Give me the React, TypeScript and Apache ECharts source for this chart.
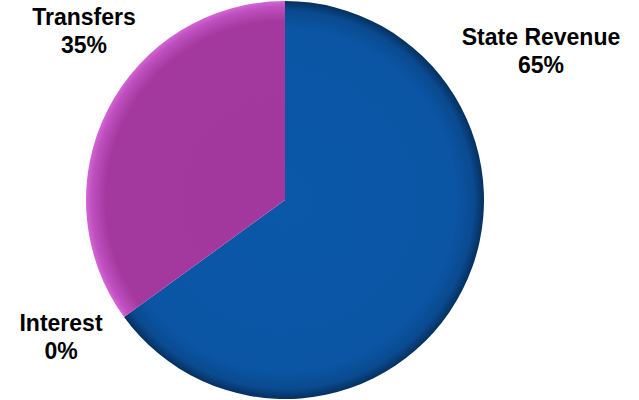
import React, { useEffect, useRef } from "react";
import * as echarts from "echarts";

const categories = ["State Revenue", "Interest", "Transfers"];
const values = [65, 0, 35];

const labelPos: Record<string, [number, number]> = {
  "State Revenue": [541, 51],
  Interest: [61, 337],
  Transfers: [84, 31],
};

export default function App() {
  const ref = useRef<HTMLDivElement>(null);
  useEffect(() => {
    document.body.style.margin = "0";
    const chart = echarts.init(ref.current!, null, { renderer: "svg" });
    const cx = 285;
    const cy = 200;
    const r = 199;
    const blue = new echarts.graphic.RadialGradient(
      cx,
      cy,
      r,
      [
        { offset: 0, color: "#0b57a8" },
        { offset: 0.86, color: "#0b55a4" },
        { offset: 0.95, color: "#0a4a90" },
        { offset: 1, color: "#05305e" },
      ],
      true
    );
    const purple = new echarts.graphic.RadialGradient(
      cx,
      cy,
      r,
      [
        { offset: 0, color: "#a2389d" },
        { offset: 0.9, color: "#a3399e" },
        { offset: 0.97, color: "#bf4fbf" },
        { offset: 1, color: "#d465d4" },
      ],
      true
    );
    const colors = [blue, blue, purple];
    chart.setOption({
      animation: false,
      backgroundColor: "#ffffff",
      series: [
        {
          type: "pie",
          center: [cx, cy],
          radius: [0, r],
          startAngle: 90,
          clockwise: true,
          avoidLabelOverlap: false,
          data: categories.map((name, i) => ({
            name,
            value: values[i],
            itemStyle: { color: colors[i] },
          })),
          itemStyle: { borderWidth: 0 },
          emphasis: { disabled: true },
          labelLine: { show: false },
          label: {
            show: true,
            position: "outside",
            formatter: (p: any) => `${p.name}\n${Math.round(p.percent)}%`,
            fontFamily: "Liberation Sans, Arial, sans-serif",
            fontWeight: "bold",
            fontSize: 23,
            lineHeight: 28,
            color: "#000000",
            align: "center",
          },
          labelLayout: (params: any) => {
            const name = categories[params.dataIndex];
            const [x, y] = labelPos[name];
            return { x, y, align: "center", verticalAlign: "middle" };
          },
        },
      ],
    });
    return () => chart.dispose();
  }, []);
  return (
    <div
      ref={ref}
      style={{ position: "absolute", left: 0, top: 0, width: 639, height: 400 }}
    />
  );
}
